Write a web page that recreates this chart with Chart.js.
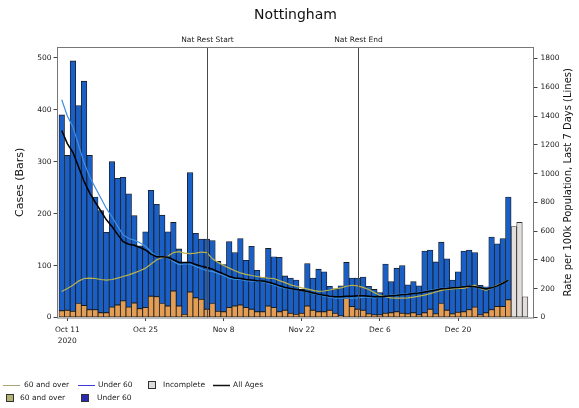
<!DOCTYPE html>
<html><head><meta charset="utf-8">
<script src="https://cdn.jsdelivr.net/npm/chart.js@4.4.0/dist/chart.umd.min.js"></script>
<style>html,body{margin:0;padding:0;background:#fff;}#wrap{width:579px;height:408px;position:relative;}</style>
</head><body><div id="wrap"><canvas id="c"></canvas></div>
<script>
// ---- DATA ----
const startDate = [2020, 9, 10]; // Oct 10 2020 (first bar)
const dayCount = 84;             // Oct 10 .. Jan 1
const monthNames = ['Jan','Feb','Mar','Apr','May','Jun','Jul','Aug','Sep','Oct','Nov','Dec'];
const days = [];
for (let i = 0; i < dayCount; i++) {
  const d = new Date(startDate[0], startDate[1], startDate[2] + i);
  days.push(monthNames[d.getMonth()] + ' ' + d.getDate());
}
const over60Cases = [13,14,12,27,23,15,15,9,9,20, 24,32,20,28,17,19,41,40,27,22, 51,22,6,49,38,35,16,27,12,11,
  19,22,24,19,16,11,11,22,19,11, 14,8,6,8,22,14,11,11,14,8, 3,37,21,16,14,7,5,5,8,9,
  11,8,7,9,5,9,16,7,27,14, 7,10,11,15,20,5,9,15,21,21,34];
const under60Cases = [377,298,482,381,432,297,217,197,155,280, 244,238,218,168,121,146,204,178,170,143,
  132,110,100,230,124,116,135,121,96,91, 127,103,128,91,121,80,66,111,98,105,
  66,68,66,46,82,62,82,77,46,47, 58,69,55,60,64,53,49,43,95,60,
  84,92,56,60,56,119,114,100,118,99, 65,78,117,115,105,57,50,140,121,131,198];
const incompleteCases = [175,183,40];   // Dec 30, Dec 31, Jan 1
const rateAll = [1300,1209,1148,1047,946,866,801,740,679,632, 578,527,509,502,487,469,440,422,422,419,
  401,383,383,383,368,357,347,336,318,303, 285,274,271,264,260,256,253,245,235,220,
  209,202,195,188,181,170,162,155,148,144, 144,148,148,152,152,148,144,144,148,152,
  155,159,162,166,170,177,184,191,199,202, 206,209,213,217,213,206,199,206,220,238,260];
const rateOver60 = [181,202,224,253,271,274,271,264,260,264, 274,285,296,310,325,343,372,401,415,426,
  451,458,448,444,448,455,451,408,383,361, 343,325,310,300,292,285,278,274,271,256,
  242,227,217,206,199,188,181,184,191,199, 206,217,224,220,209,195,173,155,144,137,
  134,134,137,141,148,155,166,177,188,195, 199,202,202,213,224,202,188,206,224,242,260];
const rateUnder60 = [1513,1401,1325,1199,1076,978,903,830,758,700, 635,574,549,538,520,495,455,426,422,419,
  390,368,372,372,354,339,325,321,307,292, 274,264,264,256,253,253,249,238,227,213,
  202,199,191,184,177,166,159,148,141,134, 134,134,134,137,141,141,137,141,148,155,
  159,162,166,170,173,181,188,195,202,202, 206,209,217,217,209,206,202,206,220,238,260];
const tickLabels = ['Oct 11','Oct 25','Nov 8','Nov 22','Dec 6','Dec 20'];
const yearLabel = '2020';
const markerDays = ['Nov 5','Dec 2'];
const markerLabels = ['Nat Rest Start','Nat Rest End'];
const leftTicks = [0,100,200,300,400,500];
const rightTicks = [0,200,400,600,800,1000,1200,1400,1600,1800];

// ---- STYLE ----
const FONT = "'DejaVu Sans', sans-serif";
const C_OVER = '#e39d55', C_UNDER = '#1a5fc6', C_INC = '#e2dedc';
const C_LOVER = '#b9b24a', C_LUNDER = '#3f8fe0';

const pts = (arr, off) => arr.map((v, i) => ({x: i + (off || 0), y: v}));
const nComplete = under60Cases.length;

const decor = {
  id: 'decor',
  afterDatasetsDraw(chart) {
    const {ctx, chartArea: a, scales: {x}} = chart;
    ctx.save();
    ctx.strokeStyle = '#4a4a4a'; ctx.lineWidth = 1;
    ctx.fillStyle = '#222'; ctx.font = '7.5px ' + FONT;
    ctx.textAlign = 'center'; ctx.textBaseline = 'middle';
    markerDays.forEach((d, k) => {
      const px = Math.round(x.getPixelForValue(days.indexOf(d))) + 0.5;
      ctx.beginPath(); ctx.moveTo(px, a.top); ctx.lineTo(px, a.bottom); ctx.stroke();
      ctx.fillText(markerLabels[k], px, a.top - 7);
    });
    ctx.strokeStyle = '#777'; ctx.lineWidth = 1;
    ctx.strokeRect(a.left + 0.5, a.top + 0.5, a.right - a.left - 1, a.bottom - a.top);
    ctx.restore();
  },
  afterDraw(chart) {
    const {ctx, chartArea: a} = chart;
    ctx.save();
    ctx.fillStyle = '#111';
    ctx.textAlign = 'center'; ctx.textBaseline = 'middle';
    ctx.font = '14px ' + FONT;
    ctx.fillText('Nottingham', (a.left + a.right) / 2, 15);
    const mid = (a.top + a.bottom) / 2;
    ctx.font = '11px ' + FONT;
    ctx.save(); ctx.translate(20, mid); ctx.rotate(-Math.PI / 2); ctx.fillText('Cases (Bars)', 0, 0); ctx.restore();
    ctx.font = '10px ' + FONT;
    ctx.save(); ctx.translate(568, mid); ctx.rotate(-Math.PI / 2);
    ctx.fillText('Rate per 100k Population, Last 7 Days (Lines)', 0, 0); ctx.restore();
    // legend
    ctx.font = '7.5px ' + FONT; ctx.textAlign = 'left'; ctx.fillStyle = '#222';
    const line = (x0, x1, y, col, w) => { ctx.strokeStyle = col; ctx.lineWidth = w; ctx.beginPath(); ctx.moveTo(x0, y); ctx.lineTo(x1, y); ctx.stroke(); };
    const box = (x0, y, col) => { ctx.fillStyle = col; ctx.fillRect(x0, y - 4, 8, 8); ctx.strokeStyle = '#333'; ctx.lineWidth = 1; ctx.strokeRect(x0 + 0.5, y - 3.5, 7, 7); ctx.fillStyle = '#222'; };
    const r1 = 385, r2 = 398;
    line(3, 20, r1 + 0.5, '#a8a578', 1); ctx.fillText('60 and over', 24, r1);
    line(78, 95, r1 + 0.5, '#3a3adf', 1); ctx.fillText('Under 60', 98, r1);
    box(148, r1, '#dcdcdc'); ctx.fillText('Incomplete', 163, r1);
    line(213, 230, r1 + 0.5, '#111', 1.5); ctx.fillText('All Ages', 233, r1);
    box(6, r2, '#b4b270'); ctx.fillText('60 and over', 20, r2);
    box(81, r2, '#2b2bb0'); ctx.fillText('Under 60', 97, r2);
    ctx.restore();
  }
};

const tickIdx = tickLabels.map(t => days.indexOf(t));

new Chart(document.getElementById('c'), {
  type: 'bar',
  data: {
    datasets: [
      {label: '60 and over', data: pts(over60Cases), backgroundColor: C_OVER, borderColor: '#1a1a1a', borderWidth: 0.8, borderSkipped: false, yAxisID: 'y', order: 5, barPercentage: 1, categoryPercentage: 1},
      {label: 'Under 60', data: pts(under60Cases), backgroundColor: C_UNDER, borderColor: '#1a1a1a', borderWidth: 0.8, borderSkipped: false, yAxisID: 'y', order: 5, barPercentage: 1, categoryPercentage: 1},
      {label: 'Incomplete', data: pts(incompleteCases, nComplete), backgroundColor: C_INC, borderColor: '#333', borderWidth: 0.8, borderSkipped: false, yAxisID: 'y', order: 5, barPercentage: 1, categoryPercentage: 1},
      {type: 'line', label: '60 and over rate', data: pts(rateOver60), borderColor: C_LOVER, borderWidth: 1.2, pointRadius: 0, yAxisID: 'y2', order: 1, tension: 0},
      {type: 'line', label: 'Under 60 rate', data: pts(rateUnder60), borderColor: C_LUNDER, borderWidth: 1.2, pointRadius: 0, yAxisID: 'y2', order: 2, tension: 0},
      {type: 'line', label: 'All Ages', data: pts(rateAll), borderColor: '#000', borderWidth: 1.5, pointRadius: 0, yAxisID: 'y2', order: 0, tension: 0}
    ]
  },
  options: {
    responsive: true, maintainAspectRatio: false, animation: false,
    layout: {padding: {top: 47, left: 0, right: 0, bottom: 0}, autoPadding: false},
    plugins: {legend: {display: false}, title: {display: false}, tooltip: {enabled: false}},
    scales: {
      x: {
        type: 'linear', min: -0.85, max: 84.6, offset: false, stacked: true,
        grid: {display: true, drawOnChartArea: false, drawTicks: true, tickLength: 3.5, color: '#444', offset: false},
        border: {display: false},
        afterBuildTicks: s => { s.ticks = tickIdx.map(v => ({value: v})); },
        afterFit: s => { s.height = 90.5; },
        ticks: {
          autoSkip: false, maxRotation: 0, padding: 3, color: '#222',
          font: {family: FONT, size: 7.5, lineHeight: 1.55},
          callback: v => { const k = tickIdx.indexOf(v); if (k < 0) return ''; return k === 0 ? [tickLabels[k], yearLabel] : tickLabels[k]; }
        }
      },
      y: {
        position: 'left', stacked: true, min: 0, max: 520.8,
        grid: {display: true, drawOnChartArea: false, tickLength: 3.5, color: '#444'},
        border: {display: false},
        afterBuildTicks: s => { s.ticks = leftTicks.map(v => ({value: v})); },
        afterFit: s => { s.width = 57; },
        ticks: {padding: 2, color: '#222', font: {family: FONT, size: 7.5}, callback: v => String(v)}
      },
      y2: {
        position: 'right', stacked: false, min: 0, max: 1880,
        grid: {display: true, drawOnChartArea: false, tickLength: 3.5, color: '#444'},
        border: {display: false},
        afterBuildTicks: s => { s.ticks = rightTicks.map(v => ({value: v})); },
        afterFit: s => { s.width = 45; },
        ticks: {padding: 3, color: '#222', font: {family: FONT, size: 7.5}, callback: v => String(v)}
      }
    }
  },
  plugins: [decor]
});
</script></body></html>
